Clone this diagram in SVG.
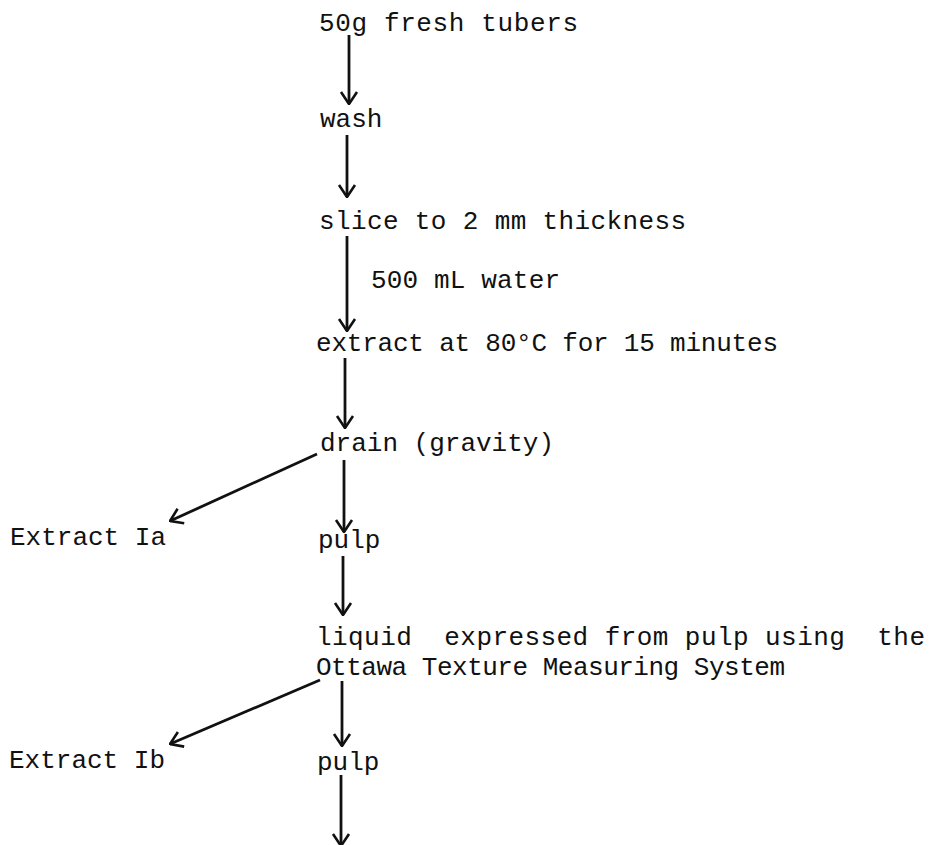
<svg xmlns="http://www.w3.org/2000/svg" width="930" height="845" viewBox="0 0 930 845">
<style>
text{font-family:"Liberation Mono","DejaVu Sans Mono",monospace;font-size:26px;fill:#111}
.c line{stroke:#111;stroke-width:2.8;fill:none;marker-end:url(#ah)}
</style>
<defs>
<marker id="ah" viewBox="-1 -10 15 20" refX="13" refY="0" markerWidth="15" markerHeight="20" markerUnits="userSpaceOnUse" orient="auto">
<path d="M1,-8 L13,0 L1,8" fill="none" stroke="#111" stroke-width="2.6" stroke-linejoin="miter"/>
</marker>
</defs>
<rect width="930" height="845" fill="#fff"/>
<g class="c">
<line x1="349" y1="35" x2="349" y2="104"/>
<line x1="347" y1="135" x2="347" y2="197"/>
<line x1="347" y1="236" x2="347" y2="331"/>
<line x1="345" y1="358" x2="345" y2="428"/>
<line x1="344" y1="460" x2="344" y2="532"/>
<line x1="343" y1="556" x2="343" y2="615"/>
<line x1="342" y1="681" x2="342" y2="746"/>
<line x1="341" y1="775" x2="341" y2="846"/>
<line x1="317" y1="454" x2="170" y2="521"/>
<line x1="320" y1="680" x2="170" y2="744"/>
</g>
<g id="n1"><text x="319" y="31" textLength="259">50g fresh tubers</text></g>
<g id="n2"><text x="320" y="127">wash</text></g>
<g id="n3"><text x="319" y="229" textLength="367">slice to 2 mm thickness</text></g>
<g id="l1"><text x="371" y="288" textLength="189">500 mL water</text></g>
<g id="n4"><text x="316" y="351" textLength="462">extract at 80°C for 15 minutes</text></g>
<g id="n5"><text x="320" y="451" textLength="234">drain (gravity)</text></g>
<g id="n6"><text x="10" y="545">Extract Ia</text></g>
<g id="n7"><text x="318" y="548">pulp</text></g>
<g id="n8"><text x="316" y="645" textLength="609" xml:space="preserve">liquid  expressed from pulp using  the</text><text x="316" y="675" textLength="469">Ottawa Texture Measuring System</text></g>
<g id="n9"><text x="9" y="768">Extract Ib</text></g>
<g id="n10"><text x="317" y="770">pulp</text></g>
</svg>
